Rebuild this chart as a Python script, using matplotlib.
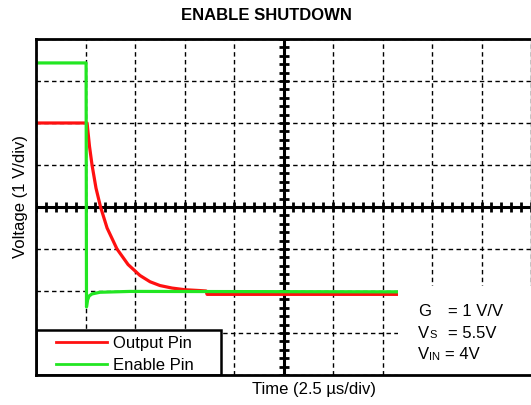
import numpy as np
import matplotlib
matplotlib.use("Agg")
import matplotlib.pyplot as plt
from matplotlib.patches import Rectangle

plt.rcParams['font.family'] = ['Liberation Sans', 'DejaVu Sans']

# scope traces: time in us, voltage in V (ground at 0)
out_t = [0.0, 2.58, 2.70, 2.83, 3.03, 3.26, 3.59, 4.09, 4.65, 5.25, 5.76,
         6.26, 6.87, 7.53, 8.28, 8.59, 8.64, 18.28]
out_v = [4.0, 4.0, 3.45, 3.0, 2.45, 2.0, 1.5, 1.0, 0.63, 0.37, 0.22,
         0.13, 0.07, 0.03, 0.01, 0.0, -0.08, -0.08]

en_t = [0.0, 2.53, 2.55, 2.60, 2.68, 2.83, 3.23, 4.75, 18.28]
en_v = [5.43, 5.43, -0.38, -0.22, -0.12, -0.07, -0.03, -0.01, -0.02]

t_div = 2.5          # us per division
v_div = 1.0          # V per division
t_range = (0.0, 25.0)
v_range = (-2.0, 6.0)

W, H = 531, 406
fig = plt.figure(figsize=(W / 100, H / 100), dpi=100)
ax = fig.add_axes([36 / W, (H - 376) / H, 495 / W, 336 / H])
ax.set_xlim(*t_range)
ax.set_ylim(*v_range)

# scope graticule
ax.set_xticks(np.arange(t_range[0], t_range[1] + 0.01, t_div))
ax.set_yticks(np.arange(v_range[0], v_range[1] + 0.01, v_div))
ax.tick_params(length=0, labelbottom=False, labelleft=False)
ax.grid(True, color='k', lw=1, ls=(0, (3.2, 2.4)), zorder=0)
ax.set_axisbelow(True)

tc = (t_range[0] + t_range[1]) / 2
vc = (v_range[0] + v_range[1]) / 2
ax.axhline(vc, color='k', lw=2.2, zorder=1)
ax.axvline(tc, color='k', lw=2.2, zorder=1)
mt = np.arange(t_range[0], t_range[1] + 0.01, t_div / 5)
mv = np.arange(v_range[0], v_range[1] + 0.01, v_div / 5)
ax.plot(mt, np.full_like(mt, vc), ls='none', marker='|', ms=6.5, mew=2, color='k', zorder=1)
ax.plot(np.full_like(mv, tc), mv, ls='none', marker='_', ms=6.5, mew=2, color='k', zorder=1)

for side in ['top', 'left', 'bottom']:
    ax.spines[side].set_linewidth(2)
    ax.spines[side].set_zorder(10)
ax.spines['right'].set_linewidth(1)
ax.spines['right'].set_color('#999999')

ax.plot(out_t, out_v, color='#ff1010', lw=2.3, zorder=3)
ax.plot(en_t, en_v, color='#22e622', lw=2.3, zorder=4)

# blank area behind the conditions text
ax.add_patch(Rectangle((0.731, 0), 0.27, 0.265, transform=ax.transAxes,
                       facecolor='white', edgecolor='none', zorder=6))

# legend box
ax.add_patch(Rectangle((0, 0), 0.3737, 0.134, transform=ax.transAxes,
                       facecolor='white', edgecolor='k', lw=1.8, zorder=7))
for fy, col, lab in [(0.098, '#ff1010', 'Output Pin'), (0.0327, '#22e622', 'Enable Pin')]:
    ax.plot([0.0404, 0.1434], [fy, fy], transform=ax.transAxes, color=col, lw=2, zorder=8)
    ax.text(0.1556, fy, lab, transform=ax.transAxes, fontsize=12, va='center', ha='left', zorder=8)


def ftext(x, y, s, **kw):
    fig.text(x / W, 1 - y / H, s, **kw)


ftext(266, 15, 'ENABLE SHUTDOWN', fontsize=12, fontweight='bold', ha='center', va='center')
ftext(314, 390, 'Time (2.5 µs/div)', fontsize=12, ha='center', va='center')
ftext(21, 196, 'Voltage (1 V/div)', fontsize=12, ha='center', va='center', rotation=90)

# test conditions
ftext(418, 312, 'G', fontsize=12, va='center')
ftext(448, 312, '= 1 V/V', fontsize=12, va='center')
ftext(418, 333, 'V', fontsize=12, va='center')
ftext(429, 335, 'S', fontsize=8, va='center')
ftext(448, 333, '= 5.5V', fontsize=12, va='center')
ftext(418, 355, 'V', fontsize=12, va='center')
ftext(429, 357, 'IN', fontsize=8, va='center')
ftext(445, 355, '= 4V', fontsize=12, va='center')

fig.savefig('out.png', dpi=100)
